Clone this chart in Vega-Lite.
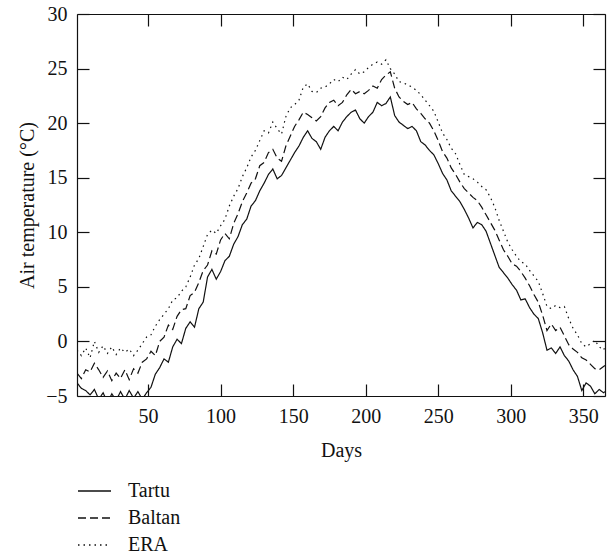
{
"$schema": "https://vega.github.io/schema/vega-lite/v6.json",
"width": 528, "height": 382,
"autosize": {"type": "none"},
"padding": {"left": 77, "top": 14, "right": 3, "bottom": 160},
"config": {
  "view": {"stroke": null},
  "font": "Liberation Serif",
  "axis": {"grid": false, "domainColor": "#111", "tickColor": "#111", "domainWidth": 1.2, "tickWidth": 1.2, "tickSize": -12, "labelPadding": 22, "labelFont": "Liberation Serif", "labelFontSize": 20, "labelColor": "#111", "titleFont": "Liberation Serif", "titleFontSize": 20, "titleFontWeight": "normal", "titleColor": "#111"},
  "legend": {"labelFont": "Liberation Serif", "labelFontSize": 20, "labelFontWeight": 400, "labelColor": "#111"}
},
"data": {"values": [
{"d":1,"Tartu":-3.8,"Baltan":-2.9,"ERA":-0.8},
{"d":4,"Tartu":-4.3,"Baltan":-3.4,"ERA":-1.3},
{"d":7,"Tartu":-4.5,"Baltan":-2.6,"ERA":-0.6},
{"d":10,"Tartu":-4.9,"Baltan":-2.8,"ERA":-1.5},
{"d":13,"Tartu":-4.4,"Baltan":-2.0,"ERA":0.0},
{"d":16,"Tartu":-5.3,"Baltan":-2.6,"ERA":-1.0},
{"d":19,"Tartu":-4.7,"Baltan":-3.3,"ERA":-0.4},
{"d":22,"Tartu":-5.6,"Baltan":-2.7,"ERA":-1.1},
{"d":25,"Tartu":-4.8,"Baltan":-3.6,"ERA":-0.5},
{"d":28,"Tartu":-5.4,"Baltan":-2.9,"ERA":-1.2},
{"d":31,"Tartu":-4.6,"Baltan":-3.4,"ERA":-0.6},
{"d":34,"Tartu":-5.3,"Baltan":-2.6,"ERA":-1.0},
{"d":37,"Tartu":-4.5,"Baltan":-3.5,"ERA":-0.7},
{"d":40,"Tartu":-5.2,"Baltan":-2.5,"ERA":-1.3},
{"d":43,"Tartu":-4.6,"Baltan":-2.9,"ERA":-0.8},
{"d":46,"Tartu":-5.3,"Baltan":-1.9,"ERA":-0.2},
{"d":49,"Tartu":-4.7,"Baltan":-1.6,"ERA":0.4},
{"d":52,"Tartu":-4.2,"Baltan":-0.9,"ERA":0.6},
{"d":55,"Tartu":-3.0,"Baltan":-1.3,"ERA":1.4},
{"d":58,"Tartu":-2.4,"Baltan":0.0,"ERA":2.0},
{"d":61,"Tartu":-1.6,"Baltan":0.4,"ERA":2.5},
{"d":64,"Tartu":-1.9,"Baltan":1.5,"ERA":3.0},
{"d":67,"Tartu":-0.5,"Baltan":1.1,"ERA":3.8},
{"d":70,"Tartu":0.2,"Baltan":2.3,"ERA":4.0},
{"d":73,"Tartu":-0.2,"Baltan":2.9,"ERA":4.6},
{"d":76,"Tartu":1.2,"Baltan":3.0,"ERA":5.0},
{"d":79,"Tartu":1.8,"Baltan":4.2,"ERA":5.9},
{"d":82,"Tartu":1.3,"Baltan":4.5,"ERA":7.0},
{"d":85,"Tartu":3.0,"Baltan":5.4,"ERA":7.6},
{"d":88,"Tartu":3.6,"Baltan":6.5,"ERA":8.7},
{"d":91,"Tartu":5.9,"Baltan":7.0,"ERA":9.8},
{"d":94,"Tartu":6.6,"Baltan":8.3,"ERA":10.2},
{"d":97,"Tartu":5.7,"Baltan":8.0,"ERA":9.9},
{"d":100,"Tartu":6.4,"Baltan":9.3,"ERA":10.6},
{"d":103,"Tartu":7.4,"Baltan":9.9,"ERA":11.2},
{"d":106,"Tartu":7.8,"Baltan":9.4,"ERA":12.4},
{"d":109,"Tartu":8.9,"Baltan":10.8,"ERA":13.3},
{"d":112,"Tartu":9.6,"Baltan":11.7,"ERA":14.0},
{"d":115,"Tartu":10.7,"Baltan":12.8,"ERA":15.1},
{"d":118,"Tartu":11.2,"Baltan":13.6,"ERA":15.9},
{"d":121,"Tartu":12.4,"Baltan":14.5,"ERA":16.9},
{"d":124,"Tartu":12.9,"Baltan":14.9,"ERA":17.5},
{"d":127,"Tartu":13.8,"Baltan":16.1,"ERA":18.4},
{"d":130,"Tartu":14.5,"Baltan":16.4,"ERA":19.3},
{"d":133,"Tartu":15.3,"Baltan":17.3,"ERA":19.1},
{"d":136,"Tartu":15.8,"Baltan":17.6,"ERA":20.1},
{"d":139,"Tartu":14.9,"Baltan":16.8,"ERA":19.5},
{"d":142,"Tartu":15.2,"Baltan":16.5,"ERA":19.0},
{"d":145,"Tartu":15.9,"Baltan":17.9,"ERA":20.6},
{"d":148,"Tartu":16.6,"Baltan":18.8,"ERA":21.4},
{"d":151,"Tartu":17.3,"Baltan":19.7,"ERA":21.7},
{"d":154,"Tartu":17.9,"Baltan":20.3,"ERA":22.1},
{"d":157,"Tartu":18.7,"Baltan":21.0,"ERA":23.3},
{"d":160,"Tartu":19.3,"Baltan":20.8,"ERA":23.6},
{"d":163,"Tartu":18.6,"Baltan":20.5,"ERA":22.9},
{"d":166,"Tartu":18.3,"Baltan":20.2,"ERA":22.8},
{"d":169,"Tartu":17.6,"Baltan":20.6,"ERA":23.2},
{"d":172,"Tartu":18.7,"Baltan":21.4,"ERA":23.3},
{"d":175,"Tartu":19.3,"Baltan":21.9,"ERA":23.6},
{"d":178,"Tartu":19.7,"Baltan":22.1,"ERA":24.0},
{"d":181,"Tartu":19.3,"Baltan":21.6,"ERA":23.8},
{"d":184,"Tartu":20.1,"Baltan":21.9,"ERA":24.2},
{"d":187,"Tartu":20.6,"Baltan":22.6,"ERA":24.0},
{"d":190,"Tartu":21.0,"Baltan":23.1,"ERA":24.5},
{"d":193,"Tartu":21.2,"Baltan":22.7,"ERA":24.9},
{"d":196,"Tartu":20.4,"Baltan":22.9,"ERA":24.5},
{"d":199,"Tartu":20.0,"Baltan":22.7,"ERA":24.7},
{"d":202,"Tartu":20.6,"Baltan":23.0,"ERA":25.1},
{"d":205,"Tartu":21.0,"Baltan":23.4,"ERA":25.4},
{"d":208,"Tartu":21.9,"Baltan":23.2,"ERA":25.6},
{"d":211,"Tartu":21.6,"Baltan":24.0,"ERA":25.4},
{"d":214,"Tartu":21.8,"Baltan":24.4,"ERA":25.8},
{"d":217,"Tartu":22.4,"Baltan":24.7,"ERA":25.0},
{"d":220,"Tartu":20.7,"Baltan":23.2,"ERA":24.5},
{"d":223,"Tartu":20.1,"Baltan":22.4,"ERA":23.8},
{"d":226,"Tartu":19.8,"Baltan":22.0,"ERA":23.7},
{"d":229,"Tartu":19.5,"Baltan":21.7,"ERA":23.5},
{"d":232,"Tartu":19.7,"Baltan":21.9,"ERA":23.3},
{"d":235,"Tartu":19.3,"Baltan":21.3,"ERA":23.0},
{"d":238,"Tartu":18.3,"Baltan":20.9,"ERA":22.6},
{"d":241,"Tartu":18.0,"Baltan":20.4,"ERA":22.1},
{"d":244,"Tartu":17.5,"Baltan":20.0,"ERA":21.6},
{"d":247,"Tartu":17.1,"Baltan":19.3,"ERA":21.1},
{"d":250,"Tartu":16.3,"Baltan":18.4,"ERA":20.1},
{"d":253,"Tartu":15.4,"Baltan":17.4,"ERA":19.1},
{"d":256,"Tartu":14.8,"Baltan":16.8,"ERA":18.5},
{"d":259,"Tartu":13.8,"Baltan":15.9,"ERA":17.7},
{"d":262,"Tartu":13.3,"Baltan":15.3,"ERA":17.2},
{"d":265,"Tartu":12.8,"Baltan":14.6,"ERA":16.2},
{"d":268,"Tartu":12.1,"Baltan":14.0,"ERA":15.3},
{"d":271,"Tartu":11.3,"Baltan":13.6,"ERA":15.1},
{"d":274,"Tartu":10.4,"Baltan":13.2,"ERA":14.9},
{"d":277,"Tartu":10.9,"Baltan":12.9,"ERA":14.6},
{"d":280,"Tartu":10.7,"Baltan":12.3,"ERA":14.2},
{"d":283,"Tartu":10.1,"Baltan":11.6,"ERA":13.9},
{"d":286,"Tartu":9.0,"Baltan":10.9,"ERA":13.2},
{"d":289,"Tartu":7.9,"Baltan":10.2,"ERA":12.3},
{"d":292,"Tartu":6.8,"Baltan":9.3,"ERA":11.1},
{"d":295,"Tartu":6.3,"Baltan":8.4,"ERA":10.1},
{"d":298,"Tartu":5.8,"Baltan":7.8,"ERA":9.1},
{"d":301,"Tartu":5.2,"Baltan":7.1,"ERA":8.4},
{"d":304,"Tartu":4.7,"Baltan":6.9,"ERA":7.8},
{"d":307,"Tartu":3.8,"Baltan":6.4,"ERA":7.3},
{"d":310,"Tartu":3.9,"Baltan":5.8,"ERA":7.1},
{"d":313,"Tartu":3.1,"Baltan":5.1,"ERA":6.5},
{"d":316,"Tartu":2.5,"Baltan":4.3,"ERA":6.0},
{"d":319,"Tartu":2.1,"Baltan":3.6,"ERA":5.5},
{"d":322,"Tartu":0.8,"Baltan":2.4,"ERA":4.4},
{"d":325,"Tartu":-0.8,"Baltan":1.0,"ERA":3.2},
{"d":328,"Tartu":-0.6,"Baltan":1.6,"ERA":3.0},
{"d":331,"Tartu":-1.1,"Baltan":1.0,"ERA":3.3},
{"d":334,"Tartu":-0.5,"Baltan":1.3,"ERA":3.1},
{"d":337,"Tartu":-1.3,"Baltan":0.5,"ERA":3.2},
{"d":340,"Tartu":-1.8,"Baltan":-0.3,"ERA":2.1},
{"d":343,"Tartu":-2.6,"Baltan":-0.7,"ERA":1.2},
{"d":346,"Tartu":-3.2,"Baltan":-1.0,"ERA":0.6},
{"d":349,"Tartu":-4.5,"Baltan":-1.5,"ERA":-0.2},
{"d":352,"Tartu":-3.8,"Baltan":-1.7,"ERA":-0.5},
{"d":355,"Tartu":-4.1,"Baltan":-2.1,"ERA":-0.2},
{"d":358,"Tartu":-4.8,"Baltan":-2.5,"ERA":0.1},
{"d":361,"Tartu":-4.4,"Baltan":-2.6,"ERA":-0.5},
{"d":364,"Tartu":-4.7,"Baltan":-2.3,"ERA":-0.8},
{"d":365,"Tartu":-4.6,"Baltan":-2.2,"ERA":-0.5}
]},
"transform": [{"fold": ["Tartu", "Baltan", "ERA"], "as": ["series", "temp"]}],
"layer": [
  {
    "mark": {"type": "line", "color": "#111", "strokeWidth": 1.2, "clip": true},
    "encoding": {
      "x": {"field": "d", "type": "quantitative", "scale": {"domain": [1, 365], "nice": false, "zero": false}, "axis": {"values": [50, 100, 150, 200, 250, 300, 350], "title": "Days", "titlePadding": 14}},
      "y": {"field": "temp", "type": "quantitative", "scale": {"domain": [-5, 30], "nice": false, "zero": false}, "axis": {"values": [-5, 0, 5, 10, 15, 20, 25, 30], "title": "Air temperature (°C)", "titlePadding": 8}},
      "strokeDash": {"field": "series", "type": "nominal", "scale": {"domain": ["Tartu", "Baltan", "ERA"], "range": [[1, 0], [8, 4], [1.5, 4]]},
        "legend": {"orient": "none", "legendX": 0, "legendY": 467, "title": null, "direction": "vertical", "clipHeight": 20, "rowPadding": 7, "labelOffset": 16, "symbolType": "stroke", "symbolSize": 1089, "symbolStrokeWidth": 1.3, "symbolStrokeColor": "#111", "labelFont": "Liberation Serif", "labelFontSize": 20, "labelFontWeight": 400, "labelColor": "#111", "padding": 0}}
    }
  },
  {
    "mark": {"type": "line", "opacity": 0},
    "encoding": {
      "x": {"field": "d", "type": "quantitative", "axis": {"orient": "top", "values": [50, 100, 150, 200, 250, 300, 350], "labels": false, "title": null}},
      "y": {"field": "temp", "type": "quantitative", "axis": {"orient": "right", "values": [-5, 0, 5, 10, 15, 20, 25, 30], "labels": false, "title": null}},
      "detail": {"field": "series", "type": "nominal"}
    }
  }
],
"resolve": {"axis": {"x": "independent", "y": "independent"}}
}
